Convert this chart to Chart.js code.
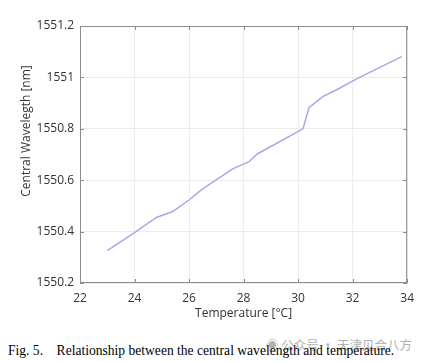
<!DOCTYPE html>
<html>
<head>
<meta charset="utf-8">
<script src="https://cdn.jsdelivr.net/npm/chart.js@4.4.1/dist/chart.umd.min.js"></script>
<style>
  html, body { margin: 0; padding: 0; background: #fff; }
  #wrap { position: relative; width: 422px; height: 362px; overflow: hidden; }
  #chartBox { position: absolute; left: 0; top: 0; width: 422px; height: 330px; }
  #caption { position: absolute; left: 8px; top: 342px; font-family: "Liberation Serif", "DejaVu Serif", serif; font-size: 14.5px; color: #000; white-space: pre; transform: scaleX(0.935); transform-origin: left top; }
  #mark { position: absolute; left: 266px; top: 335px; font-family: "Noto Sans CJK SC", sans-serif; font-size: 12.5px; color: #b0b0b0; white-space: pre; }
</style>
</head>
<body>
<div id="wrap">
  <div id="chartBox"><canvas id="wlChart" width="422" height="330"></canvas></div>
  <div id="mark">&#9673; 公众号 · 天津见合八方</div>
  <div id="caption">Fig. 5.    Relationship between the central wavelength and temperature.</div>
</div>
<script>
// temperature [°C] and central wavelength [nm]
var temps = [23.0, 24.0, 24.8, 25.4, 26.0, 26.45, 27.05, 27.6, 28.2, 28.5, 30.18, 30.4, 30.9, 31.4, 32.2, 33.8];
var waves = [1550.326, 1550.396, 1550.455, 1550.478, 1550.523, 1550.562, 1550.605, 1550.644, 1550.672, 1550.702, 1550.800, 1550.882, 1550.925, 1550.951, 1550.997, 1551.081];
var xTicks = [22, 24, 26, 28, 30, 32, 34];
var yTicks = [1550.2, 1550.4, 1550.6, 1550.8, 1551, 1551.2];
var yTitle = 'Central Wavelegth [nm]';

var pts = temps.map(function (t, i) { return { x: t, y: waves[i] }; });

// box around plot + small inward ticks like matlab, and the y title (sits a bit above centre)
var boxPlugin = {
  id: 'box',
  afterDraw: function (chart) {
    var c = chart.ctx, a = chart.chartArea;
    var xs = chart.scales.x, ys = chart.scales.y;
    c.save();
    c.strokeStyle = '#8c8c8c';
    c.lineWidth = 1;
    c.strokeRect(a.left + 0.5, a.top + 0.5, a.right - a.left - 1, a.bottom - a.top - 1);
    c.beginPath();
    xTicks.forEach(function (v) {
      var px = Math.round(xs.getPixelForValue(v)) + 0.5;
      c.moveTo(px, a.top); c.lineTo(px, a.top + 4);
      c.moveTo(px, a.bottom); c.lineTo(px, a.bottom - 4);
    });
    yTicks.forEach(function (v) {
      var py = Math.round(ys.getPixelForValue(v)) + 0.5;
      c.moveTo(a.left, py); c.lineTo(a.left + 4, py);
      c.moveTo(a.right, py); c.lineTo(a.right - 4, py);
    });
    c.stroke();

    c.translate(27, 131);
    c.rotate(-Math.PI / 2);
    c.font = '12px "Open Sans", "Noto Sans", sans-serif';
    c.fillStyle = '#333';
    c.textAlign = 'center';
    c.textBaseline = 'middle';
    c.fillText(yTitle, 0, 0);
    c.restore();
  }
};

Chart.defaults.font.family = '"Open Sans", "Noto Sans", sans-serif';
Chart.defaults.font.size = 12;
Chart.defaults.color = '#333';

new Chart(document.getElementById('wlChart'), {
  type: 'scatter',
  data: {
    datasets: [{
      data: pts,
      showLine: true,
      borderColor: '#a9a6ea',
      borderWidth: 1.5,
      pointRadius: 0,
      fill: false,
      tension: 0
    }]
  },
  options: {
    responsive: false,
    animation: false,
    layout: { padding: { left: 0, right: 9, top: 26, bottom: 0 } },
    plugins: { legend: { display: false }, tooltip: { enabled: false } },
    scales: {
      x: {
        type: 'linear', min: 22, max: 34,
        afterBuildTicks: function (s) { s.ticks = xTicks.map(function (v) { return { value: v }; }); },
        afterFit: function (s) { s.height = 47; },
        grid: { color: '#ececec', drawTicks: false },
        border: { display: false },
        ticks: { padding: 8, maxRotation: 0, callback: function (v) { return v; } },
        title: { display: true, text: 'Temperature [°C]', padding: { top: 4, bottom: 9 } }
      },
      y: {
        type: 'linear', min: 1550.2, max: 1551.2,
        afterBuildTicks: function (s) { s.ticks = yTicks.map(function (v) { return { value: v }; }); },
        afterFit: function (s) { s.width = 80; },
        grid: { color: '#ececec', drawTicks: false },
        border: { display: false },
        ticks: { padding: 6, callback: function (v) { return String(+v.toFixed(1)); } }
      }
    }
  },
  plugins: [boxPlugin]
});
</script>
</body>
</html>
